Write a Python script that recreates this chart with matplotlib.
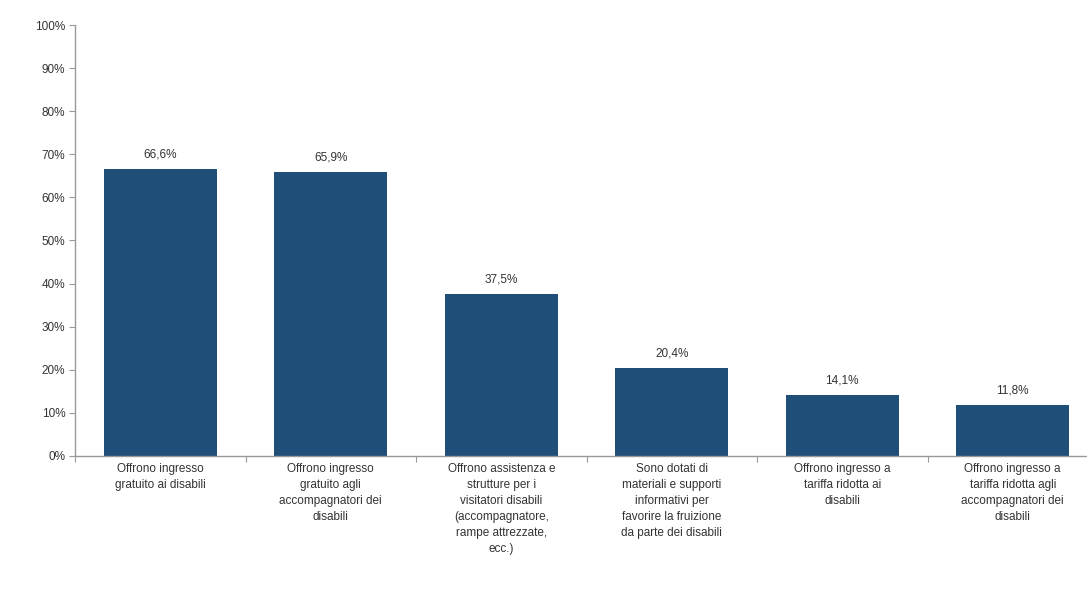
import numpy as np
import matplotlib
matplotlib.use("Agg")
import matplotlib.pyplot as plt

categories = [
    "Offrono ingresso\ngratuito ai disabili",
    "Offrono ingresso\ngratuito agli\naccompagnatori dei\ndisabili",
    "Offrono assistenza e\nstrutture per i\nvisitatori disabili\n(accompagnatore,\nrampe attrezzate,\necc.)",
    "Sono dotati di\nmateriali e supporti\ninformativi per\nfavorire la fruizione\nda parte dei disabili",
    "Offrono ingresso a\ntariffa ridotta ai\ndisabili",
    "Offrono ingresso a\ntariffa ridotta agli\naccompagnatori dei\ndisabili",
]
values = [66.6, 65.9, 37.5, 20.4, 14.1, 11.8]
value_labels = ["66,6%", "65,9%", "37,5%", "20,4%", "14,1%", "11,8%"]

plt.rcParams['font.family'] = ['Liberation Sans', 'DejaVu Sans']

fig = plt.figure(figsize=(10.87, 6.08), dpi=100)
ax = fig.add_axes([75/1087, 152/608, 1023/1087, 431/608])

x = np.arange(len(values))
ax.bar(x, values, width=0.66, color='#1f4e79', zorder=2)

for xi, v, lab in zip(x, values, value_labels):
    ax.text(xi, v + 2.0, lab, ha='center', va='bottom', fontsize=8.5, color='#333333')

ax.set_xlim(-0.5, len(values) - 0.5)
ax.set_ylim(0, 100)
ax.set_yticks(np.arange(0, 101, 10))
ax.set_yticklabels([f"{t}%" for t in range(0, 101, 10)], fontsize=8.5, color='#333333')

# category labels below, ticks between categories
ax.set_xticks(np.arange(-0.5, len(values) + 0.5, 1))
ax.set_xticklabels([])
ax.tick_params(axis='x', length=4, color='#999999', direction='out')
ax.tick_params(axis='y', length=4, color='#999999', direction='out', pad=3)
for xi, lab in zip(x, categories):
    ax.text(xi, -1.6, lab, ha='center', va='top', fontsize=8.5, color='#333333',
            linespacing=1.45)

for s in ['top', 'right']:
    ax.spines[s].set_visible(False)
for s in ['left', 'bottom']:
    ax.spines[s].set_color('#999999')
    ax.spines[s].set_linewidth(1.0)

fig.savefig('out.png', dpi=100)
